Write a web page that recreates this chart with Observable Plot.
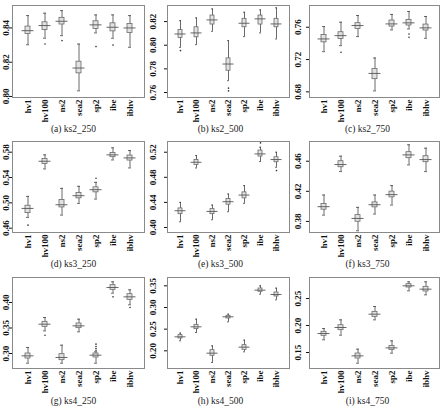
<!DOCTYPE html>
<html>
<head>
<meta charset="utf-8">
<script src="https://cdn.jsdelivr.net/npm/d3@7"></script>
<script src="https://cdn.jsdelivr.net/npm/@observablehq/plot@0.6"></script>
<style>
  html, body { margin: 0; padding: 0; background: #fff; }
  #grid { position: relative; width: 441px; height: 412px; overflow: hidden; }
  .panel { position: absolute; }
  .caption { position: absolute; width: 147px; text-align: center;
    font-family: "Liberation Serif", "DejaVu Serif", serif; font-size: 9.5px; color: #222; line-height: 10px; }
  g[aria-label="x-axis tick label"], g[aria-label="y-axis tick label"] { font-weight: bold; }
</style>
</head>
<body>
<div id="grid"></div>
<script>
// Methods compared in every panel
const methods = ["hv1", "hv100", "ns2", "sea2", "sp2", "ibe", "ibhv"];

// Panels: problem_size
const panelNames = ["ks2_250", "ks2_500", "ks2_750", "ks3_250", "ks3_500", "ks3_750", "ks4_250", "ks4_500", "ks4_750"];
const panelLetters = ["a", "b", "c", "d", "e", "f", "g", "h", "i"];

// Y tick values per panel
const yTicks = [
  [0.80, 0.82, 0.84],
  [0.76, 0.78, 0.80, 0.82],
  [0.68, 0.72, 0.76],
  [0.46, 0.50, 0.54, 0.58],
  [0.40, 0.44, 0.48, 0.52],
  [0.38, 0.42, 0.46],
  [0.30, 0.35, 0.40],
  [0.20, 0.25, 0.30, 0.35],
  [0.15, 0.20, 0.25]
];

// Y axis extent per panel
const yDomains = [
  [0.7994, 0.8531],
  [0.7558, 0.8336],
  [0.6730, 0.7869],
  [0.4532, 0.5969],
  [0.3920, 0.5371],
  [0.3653, 0.4862],
  [0.2706, 0.4490],
  [0.1592, 0.3692],
  [0.1204, 0.2889]
];

// Box statistics, one row per panel, one column per method
const whiskerLow = [
  [0.8302, 0.8340, 0.8355, 0.8033, 0.8371, 0.8340, 0.8287],
  [0.7982, 0.8005, 0.8118, 0.7700, 0.8073, 0.8104, 0.8053],
  [0.7297, 0.7372, 0.7484, 0.6812, 0.7567, 0.7579, 0.7463],
  [0.4770, 0.5536, 0.4807, 0.4992, 0.5060, 0.5678, 0.5552],
  [0.4091, 0.4949, 0.4123, 0.4251, 0.4384, 0.5051, 0.4960],
  [0.3884, 0.4462, 0.3676, 0.3898, 0.4018, 0.4551, 0.4462],
  [0.2810, 0.3444, 0.2810, 0.3425, 0.2810, 0.4183, 0.3954],
  [0.2231, 0.2423, 0.1731, 0.2669, 0.1977, 0.3308, 0.3177],
  [0.1735, 0.1821, 0.1302, 0.2105, 0.1488, 0.2642, 0.2568]
];
const quartile1 = [
  [0.8365, 0.8388, 0.8420, 0.8135, 0.8394, 0.8380, 0.8371],
  [0.8061, 0.8067, 0.8175, 0.7784, 0.8152, 0.8175, 0.8152],
  [0.7413, 0.7455, 0.7579, 0.6957, 0.7608, 0.7621, 0.7559],
  [0.4838, 0.5615, 0.4928, 0.5071, 0.5166, 0.5721, 0.5668],
  [0.4213, 0.4997, 0.4213, 0.4363, 0.4464, 0.5131, 0.5040],
  [0.3956, 0.4520, 0.3796, 0.3987, 0.4120, 0.4640, 0.4587],
  [0.2902, 0.3523, 0.2869, 0.3497, 0.2922, 0.4248, 0.4052],
  [0.2285, 0.2500, 0.1885, 0.2746, 0.2023, 0.3362, 0.3254],
  [0.1809, 0.1914, 0.1389, 0.2160, 0.1549, 0.2704, 0.2630]
];
const median = [
  [0.8384, 0.8414, 0.8439, 0.8166, 0.8418, 0.8404, 0.8400],
  [0.8095, 0.8104, 0.8214, 0.7841, 0.8186, 0.8223, 0.8180],
  [0.7455, 0.7496, 0.7621, 0.7028, 0.7641, 0.7654, 0.7592],
  [0.4912, 0.5657, 0.4970, 0.5113, 0.5208, 0.5758, 0.5710],
  [0.4267, 0.5040, 0.4256, 0.4411, 0.4517, 0.5173, 0.5083],
  [0.3996, 0.4556, 0.3840, 0.4022, 0.4156, 0.4684, 0.4622],
  [0.2954, 0.3575, 0.2922, 0.3542, 0.2967, 0.4294, 0.4111],
  [0.2323, 0.2554, 0.1946, 0.2785, 0.2085, 0.3400, 0.3300],
  [0.1852, 0.1963, 0.1438, 0.2210, 0.1586, 0.2735, 0.2673]
];
const quartile3 = [
  [0.8408, 0.8433, 0.8459, 0.8203, 0.8439, 0.8427, 0.8423],
  [0.8129, 0.8152, 0.8251, 0.7889, 0.8223, 0.8251, 0.8223],
  [0.7505, 0.7538, 0.7650, 0.7082, 0.7683, 0.7691, 0.7633],
  [0.4955, 0.5694, 0.5044, 0.5155, 0.5245, 0.5789, 0.5747],
  [0.4304, 0.5077, 0.4293, 0.4453, 0.4560, 0.5227, 0.5120],
  [0.4031, 0.4600, 0.3884, 0.4053, 0.4196, 0.4720, 0.4667],
  [0.3000, 0.3621, 0.2987, 0.3588, 0.3000, 0.4340, 0.4163],
  [0.2362, 0.2600, 0.2015, 0.2808, 0.2131, 0.3438, 0.3346],
  [0.1883, 0.2006, 0.1481, 0.2253, 0.1623, 0.2765, 0.2716]
];
const whiskerHigh = [
  [0.8472, 0.8486, 0.8501, 0.8306, 0.8476, 0.8476, 0.8472],
  [0.8208, 0.8231, 0.8307, 0.8039, 0.8279, 0.8299, 0.8316],
  [0.7608, 0.7662, 0.7745, 0.7219, 0.7758, 0.7795, 0.7733],
  [0.5102, 0.5758, 0.5229, 0.5261, 0.5324, 0.5869, 0.5826],
  [0.4400, 0.5147, 0.4357, 0.4533, 0.4667, 0.5280, 0.5200],
  [0.4151, 0.4667, 0.3987, 0.4151, 0.4276, 0.4818, 0.4773],
  [0.3118, 0.3706, 0.3163, 0.3673, 0.3033, 0.4405, 0.4248],
  [0.2408, 0.2731, 0.2115, 0.2846, 0.2246, 0.3500, 0.3446],
  [0.1944, 0.2105, 0.1562, 0.2352, 0.1716, 0.2809, 0.2809]
];
const outliers = [
  [[], [0.8306], [0.8326], [], [0.8291], [0.8300], []],
  [[0.7954], [], [], [0.7637, 0.7614], [], [], []],
  [[], [0.7289], [], [], [], [0.7517, 0.7476], []],
  [[0.4648], [], [], [], [0.5388], [], []],
  [[], [], [], [], [], [0.5349], [0.4907]],
  [[], [], [], [], [], [], []],
  [[], [0.3359], [], [], [0.3183, 0.3137, 0.3098, 0.3065], [0.4111], [0.3902]],
  [[], [], [], [], [], [], []],
  [[], [], [], [], [], [], []]
];

// Grid placement of the panels
const colLeft = [0, 147, 294];
const colMarginLeft = [12, 20, 15];
const colMarginRight = [3, 5, 2];
const colTickPadding = [0.5, 8.5, 5.5];
const rowTop = [0, 136, 272];
const rowFrameHeight = [92, 91, 91];
const rowCaptionTop = [124, 259, 396];

const grid = document.getElementById("grid");
const fmt = d3.format(".2f");

panelNames.forEach((name, p) => {
  const col = p % 3, row = Math.floor(p / 3);
  const stats = methods.map((m, j) => ({
    method: m,
    lo: whiskerLow[p][j],
    q1: quartile1[p][j],
    med: median[p][j],
    q3: quartile3[p][j],
    hi: whiskerHigh[p][j]
  }));
  const extremes = methods.flatMap((m, j) => outliers[p][j].map(v => ({method: m, v})));

  const marginTop = 5, marginBottom = 25;
  const chart = Plot.plot({
    width: 147,
    height: marginTop + rowFrameHeight[row] + marginBottom,
    marginLeft: colMarginLeft[col],
    marginRight: colMarginRight[col],
    marginTop,
    marginBottom,
    style: {fontFamily: "'Liberation Serif', 'DejaVu Serif', serif", fontSize: "9px", background: "transparent", overflow: "visible", color: "#111"},
    x: {type: "band", domain: methods, paddingInner: 0, paddingOuter: 0.28},
    y: {domain: yDomains[p]},
    marks: [
      Plot.frame({stroke: "#8a8a8a"}),
      Plot.ruleX(stats, {x: "method", y1: "lo", y2: "hi", stroke: "#444", strokeWidth: 0.8}),
      Plot.tickY(stats, {x: "method", y: "lo", stroke: "#444", strokeWidth: 0.8, insetLeft: 7, insetRight: 7}),
      Plot.tickY(stats, {x: "method", y: "hi", stroke: "#444", strokeWidth: 0.8, insetLeft: 7, insetRight: 7}),
      Plot.barY(stats, {x: "method", y1: "q1", y2: "q3", fill: "#e2e2e2", stroke: "#6a6a6a", strokeWidth: 0.8, insetLeft: 6, insetRight: 6}),
      Plot.tickY(stats, {x: "method", y: "med", stroke: "#555", strokeWidth: 0.9, insetLeft: 2.5, insetRight: 2.5}),
      Plot.dot(extremes, {x: "method", y: "v", r: 0.8, fill: "#333", stroke: null}),
      Plot.axisY({ticks: yTicks[p], tickFormat: fmt, tickRotate: -90, tickSize: 3, tickPadding: colTickPadding[col], label: null}),
      Plot.axisX({tickRotate: -90, tickSize: 0, tickPadding: 2, textAnchor: "end", lineAnchor: "middle", label: null})
    ]
  });

  const panel = document.createElement("div");
  panel.className = "panel";
  panel.style.left = colLeft[col] + "px";
  panel.style.top = rowTop[row] + "px";
  panel.appendChild(chart);
  grid.appendChild(panel);

  const caption = document.createElement("div");
  caption.className = "caption";
  caption.style.left = colLeft[col] + "px";
  caption.style.top = rowCaptionTop[row] + "px";
  caption.textContent = `(${panelLetters[p]}) ${name}`;
  grid.appendChild(caption);
});
</script>
</body>
</html>
